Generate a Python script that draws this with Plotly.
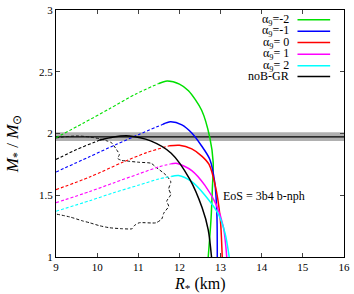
import plotly.graph_objects as go

# ---- data ----
green_dash_x = [9.0, 9.66, 10.3, 10.94, 11.5]
green_dash_y = [1.965, 2.083, 2.20, 2.32, 2.405]
green_solid_x = [11.5, 11.7, 12.0, 12.22, 12.54, 12.74, 12.82, 12.80, 12.77, 12.70]
green_solid_y = [2.405, 2.425, 2.40, 2.346, 2.188, 1.964, 1.767, 1.55, 1.32, 1.0]

blue_dash_x = [9.0, 9.8, 10.46, 11.0, 11.6]
blue_dash_y = [1.688, 1.81, 1.911, 1.99, 2.075]
blue_solid_x = [11.6, 11.78, 12.06, 12.30, 12.54, 12.74, 12.86, 12.91, 12.92]
blue_solid_y = [2.075, 2.095, 2.07, 2.004, 1.899, 1.79, 1.60, 1.35, 1.0]

red_dash_x = [9.0, 9.82, 10.62, 11.2, 11.75]
red_dash_y = [1.545, 1.648, 1.767, 1.845, 1.90]
red_solid_x = [11.75, 12.0, 12.3, 12.55, 12.72, 12.87, 12.99, 13.04]
red_solid_y = [1.90, 1.905, 1.875, 1.815, 1.75, 1.58, 1.32, 1.0]

magenta_dash_x = [9.0, 9.82, 10.4, 11.02, 11.5, 11.8]
magenta_dash_y = [1.44, 1.53, 1.60, 1.674, 1.73, 1.755]
magenta_solid_x = [11.8, 11.95, 12.3, 12.62, 12.9, 13.07, 13.15]
magenta_solid_y = [1.755, 1.757, 1.70, 1.58, 1.42, 1.24, 1.0]

cyan_dash_x = [9.0, 9.82, 10.4, 11.02, 11.5, 11.8]
cyan_dash_y = [1.37, 1.456, 1.52, 1.583, 1.632, 1.652]
cyan_solid_x = [11.8, 11.98, 12.3, 12.62, 12.95, 13.11, 13.21]
cyan_solid_y = [1.652, 1.66, 1.61, 1.50, 1.345, 1.19, 1.0]

black_dash_x = [9.0, 9.5, 9.9, 10.05]
black_dash_y = [1.79, 1.87, 1.925, 1.945]
black_solid_x = [10.05, 10.4, 10.78, 11.3, 11.8, 12.25, 12.55, 12.70, 12.78]
black_solid_y = [1.945, 1.972, 1.98, 1.94, 1.84, 1.63, 1.40, 1.22, 1.0]

contour_x = [9.0, 9.17, 9.51, 9.82, 10.06, 10.23, 10.35, 10.47, 10.54, 10.50, 10.59,
             10.78, 11.02, 11.31, 11.43, 11.67, 11.79, 11.74, 11.79, 11.69, 11.74,
             11.62, 11.57, 11.43, 11.02, 10.90, 10.85, 10.61, 10.30, 10.06, 9.82,
             9.65, 9.34, 9.0]
contour_y = [1.964, 1.972, 1.980, 1.972, 1.957, 1.941, 1.925, 1.870, 1.830, 1.798, 1.783,
             1.775, 1.767, 1.759, 1.727, 1.664, 1.609, 1.553, 1.506, 1.451, 1.411,
             1.356, 1.308, 1.277, 1.277, 1.253, 1.229, 1.229, 1.237, 1.253, 1.277,
             1.292, 1.324, 1.348]

band_low, band_high, band_mid = 1.94, 2.01, 1.972

legend_labels = ["α<sub>9</sub>=-2", "α<sub>9</sub>=-1", "α<sub>9</sub>= 0",
                 "α<sub>9</sub>= 1", "α<sub>9</sub>= 2", "noB-GR"]
colors = ["#00e000", "#0000ff", "#ff0000", "#ff00ff", "#00ffff", "#000000"]

x_ticks = [9, 10, 11, 12, 13, 14, 15, 16]
y_ticks = [1, 1.5, 2, 2.5, 3]

FONT = "Liberation Serif, Times New Roman, serif"

fig = go.Figure()

# observational band
fig.add_trace(go.Scatter(x=[9, 16, 16, 9, 9], y=[band_low, band_low, band_high, band_high, band_low],
                         fill="toself", fillcolor="rgba(150,150,150,0.75)",
                         line=dict(width=0), mode="lines", hoverinfo="skip", showlegend=False))
fig.add_trace(go.Scatter(x=[9, 16], y=[band_mid, band_mid], mode="lines",
                         line=dict(color="black", width=1.2), showlegend=False))

# contour
fig.add_trace(go.Scatter(x=contour_x, y=contour_y, mode="lines",
                         line=dict(color="#111111", width=1.0, dash="3px,2px", shape="spline", smoothing=0.6),
                         showlegend=False))

series = [
    (green_dash_x, green_dash_y, green_solid_x, green_solid_y),
    (blue_dash_x, blue_dash_y, blue_solid_x, blue_solid_y),
    (red_dash_x, red_dash_y, red_solid_x, red_solid_y),
    (magenta_dash_x, magenta_dash_y, magenta_solid_x, magenta_solid_y),
    (cyan_dash_x, cyan_dash_y, cyan_solid_x, cyan_solid_y),
    (black_dash_x, black_dash_y, black_solid_x, black_solid_y),
]
for (dx, dy, sx, sy), c in zip(series, colors):
    fig.add_trace(go.Scatter(x=dx, y=dy, mode="lines",
                             line=dict(color=c, width=1.1, dash="3px,2px", shape="spline", smoothing=0.8),
                             showlegend=False))
    fig.add_trace(go.Scatter(x=sx, y=sy, mode="lines",
                             line=dict(color=c, width=1.5, shape="spline", smoothing=0.8),
                             showlegend=False))

# manual legend (text left of sample line, like gnuplot)
row_py = [14, 25.7, 37.3, 49.3, 61, 72]
for lab, c, py in zip(legend_labels, colors, row_py):
    yp = (257 - py) / 253
    fig.add_annotation(xref="paper", yref="paper", x=(293 - 56) / 291, y=yp,
                       text=lab, showarrow=False, xanchor="right", yanchor="middle",
                       font=dict(family=FONT, size=12, color="black"))
    fig.add_shape(type="line", xref="paper", yref="paper",
                  x0=(300 - 56) / 291, x1=(333 - 56) / 291, y0=yp, y1=yp,
                  line=dict(color=c, width=1.5))

fig.add_annotation(x=13.02, y=1.49, text="EoS = 3b4 b-nph", showarrow=False,
                   xanchor="left", yanchor="middle", font=dict(family=FONT, size=12, color="black"))

# axis titles
fig.add_annotation(xref="paper", yref="paper", x=(201 - 56) / 291, y=(257 - 285) / 253,
                   text="<i>R</i><sub>*</sub> (km)", showarrow=False, xanchor="center", yanchor="middle",
                   font=dict(family=FONT, size=16, color="black"))
fig.add_annotation(xref="paper", yref="paper", x=(13 - 56) / 291, y=(257 - 141) / 253,
                   text="<i>M</i><sub>*</sub> / <i>M</i><sub>⊙</sub>", showarrow=False, textangle=-90,
                   xanchor="center", yanchor="middle",
                   font=dict(family=FONT, size=17, color="black"))

fig.update_layout(
    width=354, height=294,
    margin=dict(l=56, r=7, t=4, b=37),
    paper_bgcolor="white", plot_bgcolor="white",
    font=dict(family=FONT, size=11, color="black"),
    showlegend=False,
)
fig.update_xaxes(range=[9, 16], tickvals=x_ticks, ticks="inside", ticklen=4, mirror="ticks",
                 showline=True, linecolor="black", linewidth=1, showgrid=False, zeroline=False,
                 ticklabeloverflow="allow", tickfont=dict(family=FONT, size=11))
fig.update_yaxes(range=[1, 3], tickvals=y_ticks, ticks="inside", ticklen=4, mirror="ticks",
                 showline=True, linecolor="black", linewidth=1, showgrid=False, zeroline=False,
                 ticklabeloverflow="allow", tickfont=dict(family=FONT, size=11))

fig.write_html("out.html", config={"displayModeBar": False},
               post_script="document.body.style.margin='0';document.body.style.padding='0';document.body.style.overflow='hidden';")
